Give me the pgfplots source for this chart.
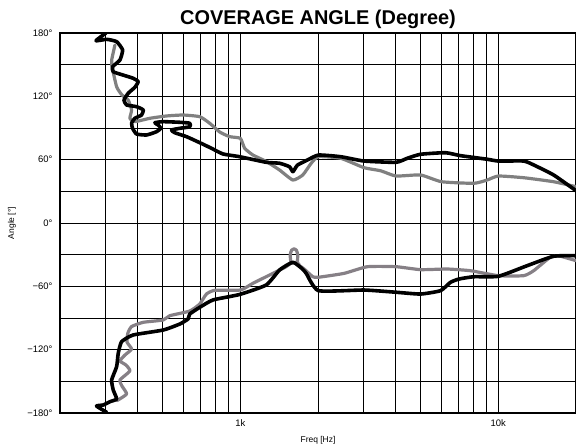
\documentclass[border=0pt]{standalone}
\usepackage{fontspec}
\setmainfont{Liberation Sans}
\usepackage{pgfplots}
\pgfplotsset{compat=1.18}
\definecolor{gA}{RGB}{128,128,128}
\definecolor{gB}{RGB}{134,128,134}
\begin{document}
\begin{tikzpicture}
\begin{axis}[
  scale only axis, width=516bp, height=380bp,
  xmode=log, xmin=200, xmax=20000, ymin=-180, ymax=180,
  log basis x=10,
  xtick={1000,10000}, xticklabels={1k,10k},
  minor xtick={300,400,500,600,700,800,900,2000,3000,4000,5000,6000,7000,8000,9000},
  ytick={-180,-120,-60,0,60,120,180},
  yticklabels={−180°,−120°,−60°,0°,60°,120°,180°},
  minor ytick={-150,-90,-30,30,90,150},
  grid=both,
  major grid style={black, line width=0.6bp},
  minor grid style={black, line width=0.6bp},
  major tick length=0pt, minor tick length=0pt,
  axis line style={black, line width=1.1bp},
  tick label style={font=\fontsize{9.5}{10}\selectfont},
  yticklabel style={anchor=east, xshift=-4bp},
  xticklabel style={anchor=north, yshift=-3bp},
  title={COVERAGE ANGLE (Degree)},
  title style={font=\bfseries\fontsize{20}{22}\selectfont, at={(axis description cs:0.5,1.02)}, anchor=center},
  xlabel={Freq [Hz]},
  xlabel style={font=\fontsize{8.5}{10}\selectfont, at={(axis description cs:0.5,-0.073)}, anchor=center},
  ylabel={Angle [°]},
  ylabel style={font=\fontsize{8.5}{10}\selectfont, at={(axis description cs:-0.093,0.5)}, anchor=center},
  every axis plot/.append style={line join=round, line cap=round, smooth, tension=0.3},
]
% upper grey
\addplot[gA, line width=3.2bp] coordinates {
(326.5,168.6) (317.1,154.4) (317.1,149.7) (331.5,129.1) (347.5,121.3) (367.6,116.5)
(378.9,107.1) (373.2,99.2) (390.2,96.0) (446,99.2) (517.5,101.4) (599.8,102.3)
(696,100.7) (760.8,94.5) (831.8,86.2) (909.1,81.8) (1000,80.2) (1039,70.8)
(1119,64.4) (1260,58.3) (1419,50.2) (1598,40.7) (1746,45.5) (1882,56.6)
(2008,62.8) (2449,61.3) (3016,52.4) (3498,49.5) (4011,44.5) (4993,45.5)
(6022,39.1) (8036,37.6) (9044,40.7) (10000,44.5) (12537,42.9) (16377,39.1) (20000,34.4)
};
% lower grey
\addplot[gB, line width=3.2bp] coordinates {
(332.4,-168.3) (362.4,-162.0) (347.5,-154.4) (341.4,-148.7) (373.2,-140.2) (360.2,-134.5)
(341.4,-130.7) (357,-125.1) (378.9,-119.4) (363.4,-112.7) (366.6,-104.2) (378.9,-98.1)
(420.2,-94.1) (502.1,-91.9) (532.9,-87.8) (636.7,-83.4) (696,-76.7) (738.7,-67.3)
(795.6,-63.8) (1000,-63.5) (1119,-57.1) (1298,-49.3) (1506,-41.4)
(1575,-37.8) (1660,-37.2) (1668,-30) (1650,-25.8) (1615,-24.5) (1580,-25.8) (1560,-30) (1575,-37.8) (1660,-37.2)
(1700,-40.5) (1768,-43.6) (1909,-50.9) (2008,-51.4) (2525,-47.7) (3107,-41.4) (4011,-41.4)
(4993,-44.2) (6334,-43.6) (7796,-45.2) (10000,-49.9) (12537,-49.9) (13705,-45.2)
(15890,-32.5) (17369,-31.5) (20000,-35.7)
};
% upper black
\addplot[black, line width=3.6bp] coordinates {
(301.4,180) (275.7,172.7) (303.3,174.0) (331.5,171.8) (349.7,163.9) (341.4,154.4)
(319.9,148.1) (321.6,143.3) (350.7,140.2) (384.3,137.1) (401.8,133.9) (390.2,128.6)
(367.6,122.9) (353.8,116.5) (362.4,111.8) (396.1,110.2) (420.2,107.1) (414.2,102.3)
(390.2,99.2) (378.9,94.5) (382.3,89.7) (396.1,84.3) (433.1,83.4) (473.4,86.5)
(491.9,89.7) (480.2,92.8) (466.3,95.0) (502.1,96.0) (582.5,95.4) (636.7,94.5)
(636.7,91.2) (582.5,89.7) (541.1,88.1) (557.1,85.5) (618.3,81.8) (696,76.1)
(772.5,70.8) (856.5,65.4) (993.8,62.8) (1260,57.5) (1419,56.6) (1551,53.3)
(1598,48.6) (1666,54.9) (1821,59.7) (2008,64.4) (2449,62.8) (3016,58.7)
(4011,57.5) (4436,61.3) (4993,65.1) (6238,66.6) (7132,63.8) (9044,60.4)
(10000,58.7) (12537,58.7) (13705,55.0) (16377,45.5) (20000,30.6)
};
% lower black
\addplot[black, line width=3.6bp] coordinates {
(303.3,-179.3) (277,-173.4) (294.2,-172.4) (312.3,-169.3) (331.5,-166.7) (321.6,-158.2)
(317.1,-148.7) (331.5,-136.1) (336.3,-123.4) (346.6,-112.4) (384.3,-106.1) (502.1,-101.4)
(582.5,-95.7) (627.2,-90.9) (636.7,-86.2) (696,-79.9) (783.5,-72.9) (993.8,-67.7)
(1260,-58.7) (1419,-44.5) (1598,-37.2) (1741,-43.6) (1800,-47.7) (2008,-64.1)
(3016,-63.5) (4011,-65.6) (4993,-67.3) (5969,-64.1) (6523,-56.2) (7031,-53.1)
(8036,-50.9) (10000,-50.5) (12912,-40.5) (16377,-31.5) (20000,-31.0)
};
\end{axis}
\pgfresetboundingbox
\path[use as bounding box] (-60bp,-35bp) rectangle (516bp,413bp);
\end{tikzpicture}
\end{document}
